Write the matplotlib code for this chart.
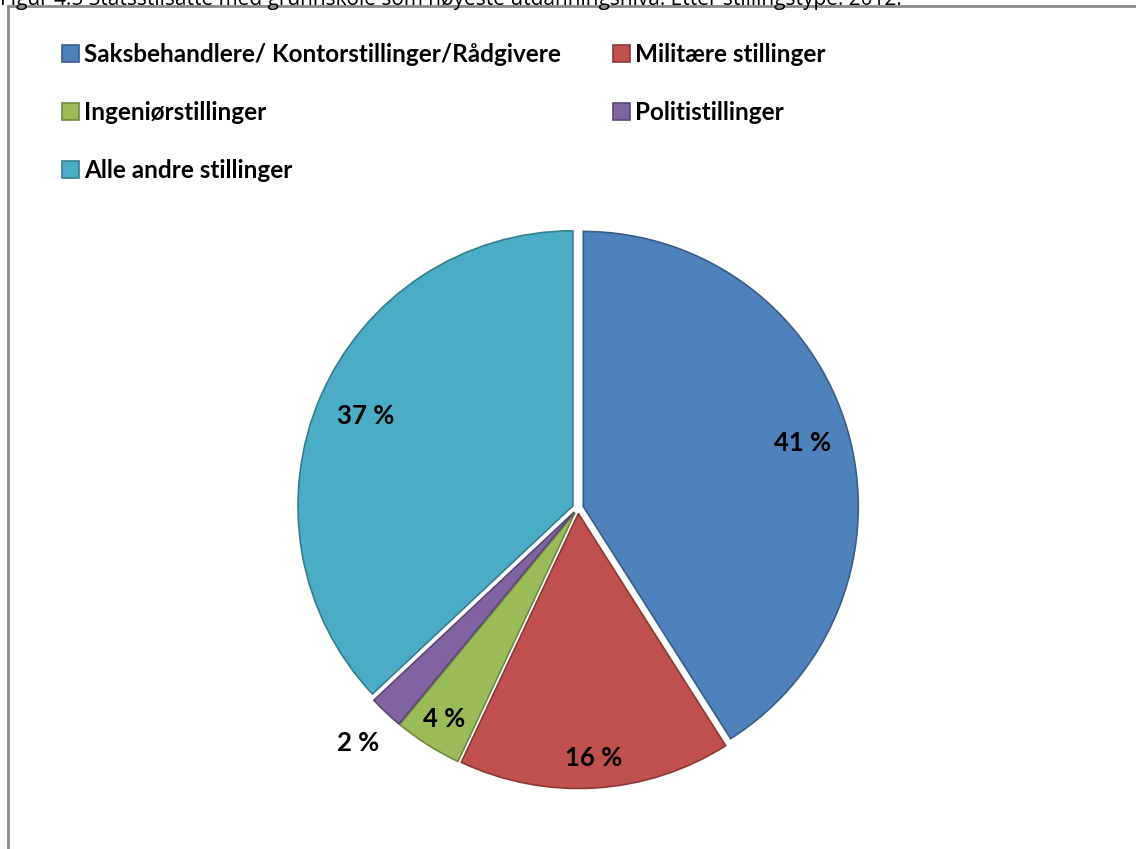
import matplotlib.pyplot as plt
import matplotlib.patches as mpatches
import numpy as np

plt.rcParams['font.family'] = ['Lato', 'DejaVu Sans']

title = 'Figur 4.5 Statsstilsatte med grunnskole som høyeste utdanningsnivå. Etter stillingstype. 2012.'
categories = ['Saksbehandlere/ Kontorstillinger/Rådgivere', 'Militære stillinger',
              'Ingeniørstillinger', 'Politistillinger', 'Alle andre stillinger']
values = [41, 16, 4, 2, 37]
labels = ['41 %', '16 %', '4 %', '2 %', '37 %']
colors = ['#4F81BD', '#C0504D', '#9BBB59', '#8064A2', '#4BACC6']
edges = ['#385D8A', '#8C3836', '#71893F', '#5C4776', '#357D91']

W, H = 1136, 849
fig = plt.figure(figsize=(W / 100, H / 100), dpi=100)

# caption, mostly cut off by the top edge as in the original
fig.text(0.0, 1.0 - 5 / H, title, fontsize=15, family=['Open Sans', 'DejaVu Sans'],
         ha='left', va='baseline')

# grey frame running off right and bottom
frame = mpatches.Rectangle((8 / W, -0.1), 1.2, 1.1 - 6 / H, transform=fig.transFigure,
                           fill=False, edgecolor='#8a8a8a', linewidth=2)
fig.add_artist(frame)

# pie
cx, cy, r = 578, 508, 275
aw, ah = 2.5 * r / W, 2.5 * r / H
ax = fig.add_axes([cx / W - aw / 2, 1 - cy / H - ah / 2, aw, ah])
wedges, _ = ax.pie(values, colors=colors, startangle=90, counterclock=False,
                   explode=[0.02] * len(values), radius=1,
                   wedgeprops=dict(linewidth=1.2))
for w, ec in zip(wedges, edges):
    w.set_edgecolor(ec)
ax.set_xlim(-1.25, 1.25)
ax.set_ylim(-1.25, 1.25)
ax.set_aspect('equal')
ax.axis('off')

dists = [0.85, 0.91, 0.91, 1.17, 0.84]
for w, lab, d in zip(wedges, labels, dists):
    ang = np.deg2rad((w.theta1 + w.theta2) / 2)
    ax.text(d * np.cos(ang), d * np.sin(ang), lab, ha='center', va='center',
            fontsize=18.5, fontweight='bold')

# legend, row-major order like the original
order = [0, 2, 4, 1, 3]
handles = [mpatches.Patch(facecolor=colors[i], edgecolor=edges[i], linewidth=1.2) for i in order]
fig.legend(handles, [categories[i] for i in order], ncol=2, loc='upper left',
           bbox_to_anchor=(40 / W, 1 - 21 / H), frameon=False,
           prop=dict(size=17.5, weight='bold'), handlelength=0.7, handleheight=0.7,
           handletextpad=0.2, labelspacing=1.45, columnspacing=2.15)

fig.savefig('out.png', dpi=100)
